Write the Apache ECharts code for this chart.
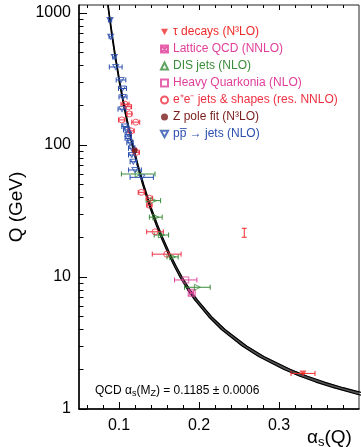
<!DOCTYPE html>
<html><head><meta charset="utf-8">
<script src="https://cdn.jsdelivr.net/npm/echarts@6/dist/echarts.min.js"></script>
<style>html,body{margin:0;padding:0;background:#fff}#c{width:361px;height:447px}</style>
</head><body><div id="c"></div>
<script>
// QCD running coupling band: alpha_s edges vs Q
const curveQ    = [1150, 1000, 700, 500, 300, 200, 150, 100, 70, 50, 35, 25, 20, 15, 12, 10, 8, 6.7, 5, 4, 3, 2.5, 2.0, 1.78, 1.6, 1.45, 1.3, 1.25];
const curveLow  = [0.0859,0.0872,0.0906,0.0942,0.1003,0.1057,0.1099,0.1163,0.1228,0.1296,0.1376,0.1462,0.1525,0.1615,0.1693,0.1761,0.1858,0.1946,0.2120,0.2280,0.2540,0.2745,0.3056,0.3254,0.3461,0.3681,0.3965,0.4076];
const curveHigh = [0.0865,0.0878,0.0914,0.0950,0.1011,0.1067,0.1109,0.1175,0.1240,0.1310,0.1392,0.1480,0.1545,0.1637,0.1717,0.1789,0.1888,0.1980,0.2158,0.2326,0.2596,0.2811,0.3138,0.3346,0.3567,0.3801,0.4104,0.4224];

const tauAlpha = [0.330], tauQ = [1.86], tauErr = [0.015];
const latAlpha = [0.1909], latQ = [7.6], latErr = [0.002];
const disAlpha = [0.124, 0.143, 0.146, 0.153, 0.167, 0.198];
const disQ     = [60.3, 37.9, 28.4, 20.8, 14.2, 8.36];
const disErr   = [0.021, 0.009, 0.008, 0.009, 0.007, 0.016];
const hqAlpha = [0.1834], hqQ = [9.5], hqErr = [0.014];
const eeAlpha = [0.1075, 0.1117, 0.113, 0.1034, 0.1209, 0.115, 0.1215, 0.128, 0.138, 0.138, 0.145, 0.1596];
const eeQ     = [204, 195, 172, 155, 149, 128, 88, 43.8, 39.5, 35, 22, 14.9];
const eeErr   = [0.005, 0.004, 0.003, 0.004, 0.005, 0.004, 0.004, 0.004, 0.004, 0.003, 0.0104, 0.018];
const zAlpha = [0.1196], zQ = [91.2], zErr = [0.002];
const ppAlpha = [0.0888, 0.0896, 0.0941, 0.0959, 0.1025, 0.1044, 0.105, 0.1038, 0.1075, 0.1096, 0.1116, 0.1116, 0.1138, 0.1159, 0.1159, 0.1179, 0.12, 0.1284];
const ppQ     = [885, 661, 464, 390, 311, 268, 231, 187, 138, 130, 120, 112, 104, 94.4, 84, 74.7, 64.7, 56.9];
const ppErr   = [0.002, 0.002, 0.002, 0.008, 0.006, 0.005, 0.005, 0.005, 0.004, 0.004, 0.004, 0.004, 0.004, 0.004, 0.004, 0.004, 0.008, 0.0146];
const strayAlpha = [0.2566], strayQ = [21.7], strayLow = [20.0], strayHigh = [23.4];

const xMajorTicks = [0.1, 0.2, 0.3];
const xMinorTicks = [0.06, 0.08, 0.12, 0.14, 0.16, 0.18, 0.22, 0.24, 0.26, 0.28, 0.32, 0.34, 0.36, 0.38];
const yMajorTicks = [1, 10, 100, 1000];
const yMinorTicks = [2,3,4,5,6,7,8,9,20,30,40,50,60,70,80,90,200,300,400,500,600,700,800,900];

const C = {tau:'#ee2a2a', lat:'#e0409a', dis:'#3a8c3a', hq:'#e0409a', ee:'#ee3040', z:'#7a1c1c', pp:'#2a4fae'};
const FONT = 'Liberation Sans, Arial, sans-serif';

function zip(a, q, e){ return a.map((v,i)=> e ? [v, q[i], e[i]] : [v, q[i]]); }

function errSeries(a, q, e, color){
  return {
    type:'custom', silent:true, z:3,
    data: zip(a,q,e),
    renderItem: function(params, api){
      const al = api.value(0), Q = api.value(1), er = api.value(2);
      const p1 = api.coord([al-er, Q]), p2 = api.coord([al+er, Q]);
      const st = {stroke: color, lineWidth: 1};
      return {type:'group', children:[
        {type:'line', shape:{x1:p1[0],y1:p1[1],x2:p2[0],y2:p2[1]}, style:st},
        {type:'line', shape:{x1:p1[0],y1:p1[1]-2.5,x2:p1[0],y2:p1[1]+2.5}, style:st},
        {type:'line', shape:{x1:p2[0],y1:p2[1]-2.5,x2:p2[0],y2:p2[1]+2.5}, style:st}
      ]};
    }
  };
}

const downTri = 'path://M0,0L10,0L5,9Z';
const latSym = 'path://M0,0H10V10H0Z M0,0L10,10 M10,0L0,10';

const names = ['τ decays (N³LO)', 'Lattice QCD (NNLO)', 'DIS jets (NLO)', 'Heavy Quarkonia (NLO)', 'e⁺e⁻ jets & shapes (res. NNLO)', 'Z pole fit (N³LO)', 'pp\u0305 → jets (NLO)'];
const nameColors = [C.tau, C.lat, C.dis, C.hq, C.ee, C.z, C.pp];

const curveLine = (arr) => ({
  type:'line', silent:true, showSymbol:false, symbol:'none', z:2, smooth:false,
  data: zip(arr, curveQ),
  lineStyle:{color:'#000', width:1.2}
});

const bandSeries = {
  type:'custom', silent:true, z:1, clip:true,
  data: curveQ.slice(0, -1).map((q, i) => [curveLow[i], q, curveHigh[i], curveLow[i+1], curveQ[i+1], curveHigh[i+1]]),
  renderItem: function(params, api){
    const a = api.coord([api.value(0), api.value(1)]);
    const b = api.coord([api.value(3), api.value(4)]);
    const c = api.coord([api.value(5), api.value(4)]);
    const d = api.coord([api.value(2), api.value(1)]);
    return {type:'polygon', shape:{points:[a,b,c,d]}, style:{fill:'#555', stroke:'#555', lineWidth:0.5}};
  }
};

const chart = echarts.init(document.getElementById('c'), null, {renderer:'canvas'});
const xBase = {type:'value', min:0.05, max:0.4, gridIndex:0, splitLine:{show:false}};
const yBase = {type:'log', logBase:10, min:1, max:1150, gridIndex:0, splitLine:{show:false}};
chart.setOption({
  animation:false,
  grid:{left:79, right:2, top:5, bottom:38, show:true, borderColor:'#222', borderWidth:1, backgroundColor:'transparent'},
  xAxis:[
    Object.assign({}, xBase, {position:'bottom', axisLine:{lineStyle:{color:'#000', width:1.5}},
      axisTick:{inside:true, length:7, customValues:xMajorTicks, lineStyle:{color:'#000', width:1}},
      axisLabel:{customValues:xMajorTicks, margin:9, color:'#000', fontSize:16, fontFamily:FONT, formatter:v=>v.toFixed(1)}}),
    Object.assign({}, xBase, {position:'bottom', axisLine:{show:false},
      axisTick:{inside:true, length:4, customValues:xMinorTicks, lineStyle:{color:'#000', width:1}},
      axisLabel:{show:false}}),
    Object.assign({}, xBase, {position:'top', axisLine:{show:false},
      axisTick:{inside:true, length:5, customValues:xMajorTicks, lineStyle:{color:'#000', width:1}},
      axisLabel:{show:false}}),
    Object.assign({}, xBase, {position:'top', axisLine:{show:false},
      axisTick:{inside:true, length:3, customValues:xMinorTicks, lineStyle:{color:'#000', width:1}},
      axisLabel:{show:false}})
  ],
  yAxis:[
    Object.assign({}, yBase, {position:'left', axisLine:{show:true, lineStyle:{color:'#000', width:1.5}},
      axisTick:{show:true, inside:true, length:8, customValues:yMajorTicks, lineStyle:{color:'#000', width:1}},
      axisLabel:{customValues:yMajorTicks, margin:8, color:'#000', fontSize:16, fontFamily:FONT, formatter:v=>String(Math.round(v))}}),
    Object.assign({}, yBase, {position:'left', axisLine:{show:false},
      axisTick:{show:true, inside:true, length:4.5, customValues:yMinorTicks, lineStyle:{color:'#000', width:1}},
      axisLabel:{show:false}})
  ],
  legend:{
    orient:'vertical', left:155, top:21, itemWidth:7, itemHeight:7, itemGap:5, symbolRotate:0,
    textStyle:{fontSize:12, fontFamily:FONT},
    data: names.map((n,i)=>({name:n, textStyle:{color:nameColors[i]}}))
  },
  series:[
    bandSeries,
    curveLine(curveLow), curveLine(curveHigh),
    errSeries(tauAlpha, tauQ, tauErr, C.tau),
    errSeries(latAlpha, latQ, latErr, C.lat),
    errSeries(disAlpha, disQ, disErr, C.dis),
    errSeries(hqAlpha, hqQ, hqErr, C.hq),
    errSeries(eeAlpha, eeQ, eeErr, C.ee),
    errSeries(zAlpha, zQ, zErr, C.z),
    errSeries(ppAlpha, ppQ, ppErr, C.pp),
    {type:'custom', silent:true, z:3, data: strayAlpha.map((a,i)=>[a, strayQ[i], strayLow[i], strayHigh[i]]),
      renderItem:function(params, api){
        const p1 = api.coord([api.value(0), api.value(2)]), p2 = api.coord([api.value(0), api.value(3)]);
        const st = {stroke:C.tau, lineWidth:1};
        return {type:'group', children:[
          {type:'line', shape:{x1:p1[0],y1:p1[1],x2:p2[0],y2:p2[1]}, style:st},
          {type:'line', shape:{x1:p1[0]-2.5,y1:p1[1],x2:p1[0]+2.5,y2:p1[1]}, style:st},
          {type:'line', shape:{x1:p2[0]-2.5,y1:p2[1],x2:p2[0]+2.5,y2:p2[1]}, style:st}
        ]};
      }},
    {name:names[0], type:'scatter', z:5, symbol:downTri, symbolSize:[7,6], data:zip(tauAlpha,tauQ), itemStyle:{color:C.tau}},
    {name:names[1], type:'scatter', z:5, symbol:latSym, symbolSize:7, data:zip(latAlpha,latQ), itemStyle:{color:'rgba(224,64,154,0.35)', borderColor:C.lat, borderWidth:1}},
    {name:names[2], type:'scatter', z:5, symbol:'triangle', symbolRotate:-90, symbolSize:6, data:zip(disAlpha,disQ), itemStyle:{color:'rgba(255,255,255,0)', borderColor:C.dis, borderWidth:1}},
    {name:names[3], type:'scatter', z:5, symbol:'rect', symbolSize:6, data:zip(hqAlpha,hqQ), itemStyle:{color:'rgba(255,255,255,0)', borderColor:C.hq, borderWidth:1}},
    {name:names[4], type:'scatter', z:5, symbol:'circle', symbolSize:6, data:zip(eeAlpha,eeQ), itemStyle:{color:'rgba(255,255,255,0)', borderColor:C.ee, borderWidth:1}},
    {name:names[5], type:'scatter', z:6, symbol:'circle', symbolSize:6, data:zip(zAlpha,zQ), itemStyle:{color:C.z}},
    {name:names[6], type:'scatter', z:5, symbol:downTri, symbolSize:[6,5], data:zip(ppAlpha,ppQ), itemStyle:{color:'rgba(255,255,255,0)', borderColor:C.pp, borderWidth:1}}
  ],
  graphic:[
    {type:'text', x:17, y:207, rotation:Math.PI/2, style:{x:0, y:0, text:'Q (GeV)', fontSize:19, fontFamily:FONT, fill:'#000', align:'center', verticalAlign:'middle'}},
    {type:'text', x:307, y:438, style:{x:0, y:0, text:'{a|α}{s|s}{a|(Q)}', fill:'#000', align:'left', verticalAlign:'middle',
      rich:{a:{fontSize:19, fontFamily:FONT, fill:'#000', lineHeight:22, verticalAlign:'middle'}, s:{fontSize:13, fontFamily:FONT, fill:'#000', lineHeight:22, padding:[9,0,0,0], verticalAlign:'middle'}}}},
    {type:'text', x:95, y:391, style:{x:0, y:0, text:'{a|QCD α}{s|s}{a|(M}{s|Z}{a|) = 0.1185 ± 0.0006}', fill:'#000', align:'left', verticalAlign:'middle',
      rich:{a:{fontSize:12, fontFamily:FONT, fill:'#000', lineHeight:16, verticalAlign:'middle'}, s:{fontSize:9, fontFamily:FONT, fill:'#000', lineHeight:16, padding:[6,0,0,0], verticalAlign:'middle'}}}}
  ]
});
</script></body></html>
